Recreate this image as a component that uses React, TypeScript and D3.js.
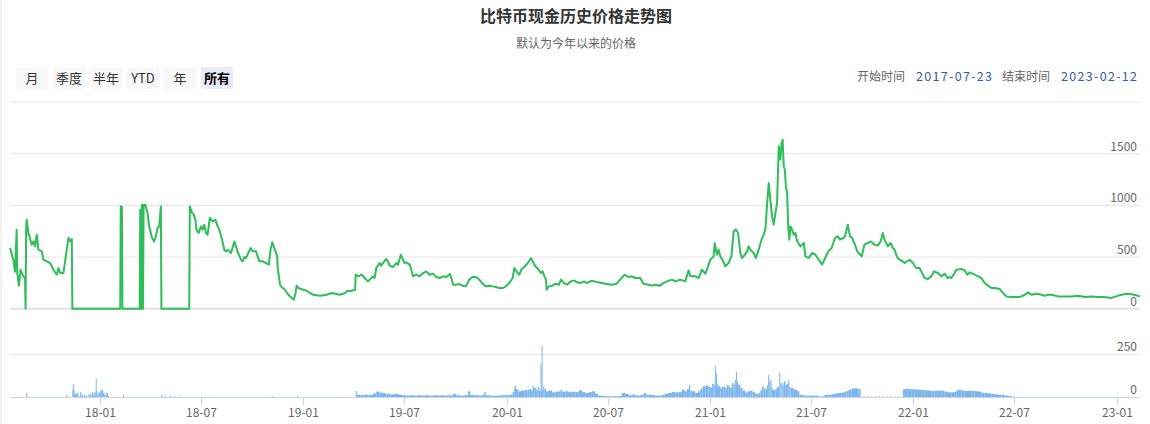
import React from 'react';
import * as d3 from 'd3';

const titleText = '比特币现金历史价格走势图';
const subtitleText = '默认为今年以来的价格';
const rangeButtons = ['月', '季度', '半年', 'YTD', '年', '所有'];
const selectedButton = '所有';
const startLabel = '开始时间';
const endLabel = '结束时间';
const startDate = '2017-07-23';
const endDate = '2023-02-12';

const priceDates = [
  '2017-07-23','2017-07-29','2017-08-01','2017-08-04','2017-08-05','2017-08-08','2017-08-11','2017-08-16','2017-08-19','2017-08-20',
  '2017-08-21','2017-08-22','2017-08-25','2017-08-31','2017-09-03','2017-09-06','2017-09-09','2017-09-12','2017-09-18','2017-09-21',
  '2017-09-27','2017-10-03','2017-10-09','2017-10-15','2017-10-18','2017-10-21','2017-10-27','2017-10-30','2017-11-05','2017-11-08',
  '2017-11-11','2017-11-12','2018-02-06','2018-02-07','2018-02-09','2018-02-10','2018-03-13','2018-03-14','2018-03-15','2018-03-16',
  '2018-03-17','2018-03-18','2018-03-19','2018-03-20','2018-03-23','2018-03-27','2018-03-30','2018-04-04','2018-04-08','2018-04-11',
  '2018-04-14','2018-04-17','2018-04-20','2018-04-21','2018-06-10','2018-06-11','2018-06-15','2018-06-18','2018-06-21','2018-06-23',
  '2018-06-27','2018-07-01','2018-07-04','2018-07-07','2018-07-10','2018-07-13','2018-07-17','2018-07-22','2018-07-27','2018-07-31',
  '2018-08-03','2018-08-08','2018-08-12','2018-08-15','2018-08-18','2018-08-24','2018-08-30','2018-09-02','2018-09-05','2018-09-11',
  '2018-09-14','2018-09-17','2018-09-20','2018-09-28','2018-10-02','2018-10-08','2018-10-11','2018-10-14','2018-10-20','2018-10-26',
  '2018-10-31','2018-11-03','2018-11-06','2018-11-09','2018-11-12','2018-11-15','2018-11-16','2018-11-20','2018-11-23','2018-11-29',
  '2018-12-05','2018-12-11','2018-12-15','2018-12-18','2018-12-20','2018-12-23','2019-01-01','2019-01-07','2019-01-13','2019-01-19',
  '2019-01-31','2019-02-12','2019-02-21','2019-02-27','2019-03-08','2019-03-17','2019-03-20','2019-03-29','2019-04-04','2019-04-05',
  '2019-04-10','2019-04-16','2019-04-21','2019-04-27','2019-05-03','2019-05-06','2019-05-09','2019-05-12','2019-05-18','2019-05-21',
  '2019-05-25','2019-05-30','2019-06-02','2019-06-05','2019-06-11','2019-06-17','2019-06-20','2019-06-25','2019-06-29','2019-07-02',
  '2019-07-05','2019-07-11','2019-07-14','2019-07-17','2019-07-23','2019-07-29','2019-08-04','2019-08-10','2019-08-16','2019-08-22',
  '2019-08-28','2019-09-03','2019-09-09','2019-09-15','2019-09-21','2019-09-24','2019-09-27','2019-10-02','2019-10-08','2019-10-14',
  '2019-10-20','2019-10-26','2019-11-01','2019-11-07','2019-11-13','2019-11-19','2019-11-25','2019-12-01','2019-12-07','2019-12-13',
  '2019-12-19','2019-12-25','2019-12-31','2020-01-06','2020-01-12','2020-01-15','2020-01-21','2020-01-24','2020-01-28','2020-02-02',
  '2020-02-08','2020-02-14','2020-02-17','2020-02-21','2020-02-25','2020-03-03','2020-03-06','2020-03-09','2020-03-12','2020-03-13',
  '2020-03-17','2020-03-23','2020-03-29','2020-04-04','2020-04-08','2020-04-13','2020-04-19','2020-04-25','2020-05-01','2020-05-07',
  '2020-05-13','2020-05-19','2020-05-24','2020-06-02','2020-06-14','2020-06-26','2020-07-08','2020-07-17','2020-07-23','2020-07-31',
  '2020-08-07','2020-08-13','2020-08-19','2020-08-28','2020-09-03','2020-09-12','2020-09-18','2020-09-24','2020-10-03','2020-10-09',
  '2020-10-15','2020-10-24','2020-10-30','2020-11-08','2020-11-17','2020-11-23','2020-11-26','2020-12-05','2020-12-11','2020-12-17',
  '2020-12-23','2020-12-26','2021-01-01','2021-01-07','2021-01-09','2021-01-13','2021-01-16','2021-01-19','2021-01-23','2021-01-28',
  '2021-02-03','2021-02-08','2021-02-12','2021-02-16','2021-02-20','2021-02-24','2021-02-27','2021-03-04','2021-03-08','2021-03-11',
  '2021-03-14','2021-03-20','2021-03-24','2021-03-29','2021-04-03','2021-04-07','2021-04-10','2021-04-13','2021-04-16','2021-04-19',
  '2021-04-22','2021-04-25','2021-04-28','2021-05-01','2021-05-04','2021-05-07','2021-05-09','2021-05-11','2021-05-13','2021-05-15',
  '2021-05-17','2021-05-19','2021-05-21','2021-05-23','2021-05-25','2021-05-28','2021-05-31','2021-06-03','2021-06-06','2021-06-12',
  '2021-06-18','2021-06-21','2021-06-27','2021-07-03','2021-07-09','2021-07-15','2021-07-21','2021-07-25','2021-08-01','2021-08-07',
  '2021-08-13','2021-08-18','2021-08-22','2021-08-28','2021-08-31','2021-09-05','2021-09-09','2021-09-13','2021-09-18','2021-09-22',
  '2021-09-30','2021-10-05','2021-10-11','2021-10-17','2021-10-23','2021-10-29','2021-11-03','2021-11-07','2021-11-10','2021-11-13',
  '2021-11-16','2021-11-21','2021-11-25','2021-11-28','2021-12-01','2021-12-04','2021-12-07','2021-12-13','2021-12-16','2021-12-25',
  '2021-12-31','2022-01-06','2022-01-12','2022-01-15','2022-01-21','2022-01-27','2022-02-02','2022-02-07','2022-02-14','2022-02-20',
  '2022-02-26','2022-03-03','2022-03-07','2022-03-10','2022-03-16','2022-03-19','2022-03-28','2022-04-03','2022-04-08','2022-04-12',
  '2022-04-21','2022-04-27','2022-05-03','2022-05-09','2022-05-15','2022-05-21','2022-05-27','2022-06-05','2022-06-11','2022-06-17',
  '2022-06-26','2022-07-08','2022-07-14','2022-07-20','2022-07-26','2022-08-01','2022-08-10','2022-08-19','2022-08-25','2022-08-31',
  '2022-09-06','2022-09-18','2022-09-30','2022-10-12','2022-10-24','2022-11-05','2022-11-16','2022-11-28','2022-12-10','2022-12-22',
  '2022-12-31','2023-01-09','2023-01-21','2023-02-02','2023-02-12',
];

const priceValues = [
  590,474,358,765,348,223,377,310,310,0,
  765,861,735,619,651,603,716,571,555,474,
  458,442,377,329,394,345,345,458,687,651,
  674,0,0,990,985,0,0,958,958,0,
  1006,1006,0,1000,1006,929,797,687,651,700,
  781,797,990,0,0,990,929,913,861,765,
  732,797,765,813,732,716,880,845,861,797,
  765,668,571,555,571,539,651,603,550,474,
  458,500,490,587,555,555,506,458,458,442,
  426,571,642,600,555,506,394,232,210,184,
  135,103,87,152,223,200,184,174,152,135,
  126,135,152,145,135,152,168,174,184,329,
  313,329,297,264,297,313,297,394,442,416,
  448,481,458,416,403,442,426,522,474,442,
  448,426,377,313,329,313,345,361,329,339,
  306,297,313,306,336,297,232,232,239,223,
  216,281,306,306,281,242,216,223,216,210,
  200,200,216,248,297,394,345,329,384,403,
  442,490,458,416,394,345,361,313,281,184,
  216,223,242,232,281,248,232,264,274,255,
  248,264,248,271,255,242,232,242,281,329,
  306,313,297,297,242,232,223,232,223,248,
  264,281,264,281,264,371,313,313,297,377,
  339,377,474,506,636,522,571,506,474,410,
  442,506,748,765,732,539,490,522,555,603,
  571,539,490,571,668,716,765,1006,1216,1055,
  893,813,926,1022,1571,1442,1603,1635,1377,1345,
  1168,1135,797,668,797,765,716,732,651,603,
  636,506,490,539,522,474,426,474,555,587,
  684,700,668,684,700,813,700,684,619,555,
  506,619,636,651,619,610,651,732,668,636,
  603,636,587,571,522,490,474,458,442,474,
  442,394,394,361,297,287,313,361,345,313,
  339,297,306,297,345,377,384,371,329,352,
  329,313,297,248,223,200,200,190,152,119,
  113,113,119,135,158,135,145,135,126,135,
  135,119,119,119,126,113,119,113,113,103,
  119,135,145,135,119,
];

const volumeDates = [
  '2017-08-21','2017-08-23','2017-09-10','2017-09-12','2017-10-19','2017-10-21','2017-11-01','2017-11-03','2017-11-05','2017-11-07',
  '2017-11-12','2017-11-13','2017-11-14','2017-11-16','2017-11-19','2017-11-21','2017-11-23','2017-11-26','2017-11-28','2017-11-29',
  '2017-12-01','2017-12-03','2017-12-05','2017-12-07','2017-12-09','2017-12-11','2017-12-13','2017-12-14','2017-12-16','2017-12-17',
  '2017-12-19','2017-12-20','2017-12-22','2017-12-24','2017-12-25','2017-12-27','2017-12-29','2018-01-01','2018-01-04','2018-01-06',
  '2018-01-09','2018-01-12','2018-01-15','2018-01-17','2018-02-11','2018-02-13','2018-02-18','2018-02-20','2018-04-21','2018-04-23',
  '2018-04-27','2018-04-29','2018-05-06','2018-05-08','2018-05-14','2018-05-16','2018-05-24','2018-05-26','2018-07-25','2018-07-27',
  '2018-09-26','2018-09-28','2018-11-05','2018-11-07','2018-12-21','2018-12-23','2019-04-05','2019-04-07','2019-04-14','2019-04-21',
  '2019-04-28','2019-05-06','2019-05-12','2019-05-18','2019-05-24','2019-05-30','2019-06-06','2019-06-13','2019-06-20','2019-06-27',
  '2019-07-04','2019-07-11','2019-07-18','2019-07-25','2019-08-01','2019-08-08','2019-08-15','2019-08-22','2019-08-29','2019-09-05',
  '2019-09-12','2019-09-19','2019-09-26','2019-10-03','2019-10-10','2019-10-17','2019-10-24','2019-10-28','2019-11-04','2019-11-11',
  '2019-11-18','2019-11-22','2019-11-25','2019-12-02','2019-12-09','2019-12-16','2019-12-23','2019-12-30','2020-01-06','2020-01-12',
  '2020-01-15','2020-01-18','2020-01-22','2020-01-27','2020-02-02','2020-02-08','2020-02-11','2020-02-14','2020-02-17','2020-02-20',
  '2020-02-23','2020-02-26','2020-02-28','2020-03-02','2020-03-03','2020-03-04','2020-03-05','2020-03-07','2020-03-09','2020-03-12',
  '2020-03-17','2020-03-23','2020-03-29','2020-04-04','2020-04-07','2020-04-10','2020-04-16','2020-04-22','2020-04-28','2020-05-04',
  '2020-05-10','2020-05-16','2020-05-22','2020-05-28','2020-06-02','2020-06-08','2020-06-14','2020-06-20','2020-06-26','2020-07-08',
  '2020-07-20','2020-07-26','2020-08-01','2020-08-07','2020-08-13','2020-08-20','2020-08-27','2020-09-03','2020-09-08','2020-09-12',
  '2020-09-18','2020-09-24','2020-10-01','2020-10-06','2020-10-11','2020-10-17','2020-10-24','2020-10-30','2020-11-05','2020-11-11',
  '2020-11-16','2020-11-20','2020-11-24','2020-11-26','2020-11-29','2020-12-05','2020-12-10','2020-12-14','2020-12-18','2020-12-23',
  '2020-12-29','2021-01-02','2021-01-04','2021-01-07','2021-01-09','2021-01-10','2021-01-11','2021-01-13','2021-01-15','2021-01-19',
  '2021-01-22','2021-01-25','2021-01-28','2021-01-31','2021-02-03','2021-02-06','2021-02-09','2021-02-12','2021-02-14','2021-02-16',
  '2021-02-18','2021-02-20','2021-02-24','2021-02-28','2021-03-05','2021-03-09','2021-03-14','2021-03-18','2021-03-23','2021-03-29',
  '2021-04-01','2021-04-04','2021-04-07','2021-04-10','2021-04-13','2021-04-15','2021-04-17','2021-04-19','2021-04-21','2021-04-22',
  '2021-04-28','2021-05-01','2021-05-05','2021-05-07','2021-05-09','2021-05-11','2021-05-13','2021-05-16','2021-05-19','2021-05-21',
  '2021-05-23','2021-05-25','2021-05-31','2021-06-06','2021-06-10','2021-06-17','2021-06-24','2021-07-01','2021-07-08','2021-07-15',
  '2021-07-22','2021-07-25','2021-08-01','2021-08-07','2021-08-13','2021-08-19','2021-08-25','2021-08-30','2021-09-03','2021-09-06',
  '2021-09-09','2021-09-12','2021-09-18','2021-09-24','2021-09-28','2021-10-03','2021-10-05','2021-10-10','2021-10-12','2021-10-17',
  '2021-10-19','2021-10-24','2021-10-26','2021-10-31','2021-11-02','2021-11-07','2021-11-09','2021-11-14','2021-11-16','2021-11-21',
  '2021-11-23','2021-11-28','2021-11-30','2021-12-04','2021-12-06','2021-12-13','2021-12-17','2021-12-22','2021-12-28','2022-01-03',
  '2022-01-09','2022-01-15','2022-01-21','2022-01-27','2022-02-02','2022-02-08','2022-02-14','2022-02-20','2022-02-26','2022-03-04',
  '2022-03-10','2022-03-16','2022-03-19','2022-03-22','2022-03-28','2022-04-03','2022-04-09','2022-04-15','2022-04-21','2022-04-27',
  '2022-05-03','2022-05-09','2022-05-15','2022-05-21','2022-05-27','2022-06-02','2022-06-08','2022-06-14','2022-06-20','2022-06-26',
  '2022-07-02','2022-07-08','2022-07-14','2022-07-26','2022-07-28','2022-07-30',
];

const volumeValues = [
  27,0,3,0,3,0,14,0,6,0,
  43,77,43,20,27,23,5,31,6,14,
  5,14,5,8,5,19,5,19,8,29,
  10,23,33,110,33,14,27,39,46,23,
  14,27,8,0,14,0,4,0,14,0,
  8,0,8,0,8,0,6,0,4,0,
  4,0,8,0,8,0,37,14,12,15,
  14,23,33,27,23,19,17,19,15,12,
  10,12,10,12,10,12,9,12,10,12,
  10,12,19,12,10,12,35,14,12,10,
  14,29,12,10,9,10,12,12,15,30,
  64,48,35,39,41,45,48,40,64,54,
  44,64,39,199,39,300,45,64,48,35,
  39,29,33,35,44,33,35,30,33,30,
  41,30,25,30,35,20,10,8,6,6,
  8,25,21,12,15,10,12,25,15,15,
  12,10,10,14,21,25,31,29,30,44,
  35,48,73,40,35,25,35,48,64,68,
  60,55,79,70,184,90,141,75,64,54,
  60,64,55,73,60,54,83,70,102,147,
  90,73,54,40,29,35,39,30,21,25,
  40,60,50,48,70,131,90,102,60,44,
  48,60,145,80,83,70,93,73,80,99,
  60,54,44,35,15,10,10,10,10,4,
  8,14,15,18,23,25,29,33,37,42,
  46,52,52,48,0,6,0,6,0,5,
  0,6,0,6,0,5,0,6,0,6,
  0,5,0,6,0,46,50,48,47,46,
  44,43,41,40,37,38,39,39,33,29,
  30,31,40,43,39,37,38,37,36,33,
  27,25,23,20,17,15,14,10,8,4,
  3,2,1,0,2,0,
];

const priceTicks = [0, 500, 1000, 1500, 2000];
const priceTickLabels = ['0', '500', '1000', '1500', ''];
const volumeTicks = [0, 250];
const volumeTickLabels = ['0', '250'];
const xTickDates = ['2018-01-01','2018-07-01','2019-01-01','2019-07-01','2020-01-01','2020-07-01','2021-01-01','2021-07-01','2022-01-01','2022-07-01','2023-01-01'];
const xTickLabels = ['18-01','18-07','19-01','19-07','20-01','20-07','21-01','21-07','22-01','22-07','23-01'];

const W = 1150;
const H = 424;
const FONT = '"Noto Sans CJK SC", "Noto Sans", sans-serif';

export default function App() {
  const parse = d3.utcParse('%Y-%m-%d');
  const x = d3.scaleUtc().domain([parse(startDate)!, parse(endDate)!]).range([10, 1140]);
  const yP = d3.scaleLinear().domain([0, 2000]).range([308.7, 102]);
  const yV = d3.scaleLinear().domain([0, 250]).range([397.3, 354.3]);

  const pricePts = priceDates.map((d, i) => [parse(d)!, priceValues[i]] as [Date, number]);
  const line = d3.line<[Date, number]>().x(d => x(d[0])).y(d => yP(d[1]));

  const dayMs = 86400000;
  const bars = volumeDates.map((d, i) => {
    const t = parse(d)!;
    const next = i < volumeDates.length - 1 ? parse(volumeDates[i + 1])! : new Date(t.getTime() + dayMs);
    const gap = Math.min(next.getTime() - t.getTime(), 14 * dayMs);
    const x0 = x(t);
    const x1 = x(new Date(t.getTime() + gap));
    return { x: x0, w: Math.max(1, x1 - x0), v: volumeValues[i] };
  }).filter(b => b.v > 0);

  return (
    <div style={{ position: 'absolute', left: 0, top: 0 }}>
      <svg width={W} height={H} style={{ display: 'block', fontFamily: FONT }}>
        <rect x={0} y={0} width={W} height={H} fill="#fff" />
        <rect x={0} y={0} width={2} height={H} fill="#efefef" />
        <text x={576} y={22} textAnchor="middle" fontSize={16} fontWeight="bold" fill="#333">{titleText}</text>
        <text x={576} y={48} textAnchor="middle" fontSize={12} fill="#666">{subtitleText}</text>

        {rangeButtons.map((b, i) => {
          const sel = b === selectedButton;
          return (
            <g key={b}>
              <rect x={16 + i * 37} y={67} width={32} height={22} rx={2} fill={sel ? '#e6ebf5' : '#f7f7f7'} />
              <text x={32 + i * 37} y={82.5} textAnchor="middle" fontSize={13} fill={sel ? '#000' : '#333'} fontWeight={sel ? 'bold' : 'normal'}>{b}</text>
            </g>
          );
        })}

        <text x={905} y={81} textAnchor="end" fontSize={12} fill="#666">{startLabel}</text>
        <text x={916} y={81} fontSize={12.5} fill="#335cad" textLength={76} lengthAdjust="spacing">{startDate}</text>
        <text x={1050} y={81} textAnchor="end" fontSize={12} fill="#666">{endLabel}</text>
        <text x={1061} y={81} fontSize={12.5} fill="#335cad" textLength={76} lengthAdjust="spacing">{endDate}</text>

        {priceTicks.map((t, i) => (
          <g key={'p' + t}>
            <line x1={10} x2={1140} y1={yP(t)} y2={yP(t)} stroke={t === 0 ? '#e0e0e0' : '#e6e6e6'} strokeWidth={t === 0 ? 2 : 1} />
            {priceTickLabels[i] && (
              <text x={1137} y={yP(t) - 3} textAnchor="end" fontSize={12} fill="#666">{priceTickLabels[i]}</text>
            )}
          </g>
        ))}

        {volumeTicks.map((t, i) => (
          <g key={'v' + t}>
            {t !== 0 && <line x1={10} x2={1140} y1={yV(t)} y2={yV(t)} stroke="#e6e6e6" strokeWidth={1} />}
            <text x={1137} y={yV(t) - 3} textAnchor="end" fontSize={12} fill="#666">{volumeTickLabels[i]}</text>
          </g>
        ))}

        {bars.map((b, i) => (
          <rect key={i} x={b.x} y={yV(b.v)} width={b.w} height={yV(0) - yV(b.v)} fill="#7cb5ec" />
        ))}

        <line x1={10} x2={1140} y1={397.5} y2={397.5} stroke="#ccd6eb" strokeWidth={1} />
        {xTickDates.map((d, i) => {
          const xx = Math.round(x(parse(d)!)) + 0.5;
          return (
            <g key={d}>
              <line x1={xx} x2={xx} y1={398} y2={405} stroke="#ccd6eb" strokeWidth={1} />
              <text x={xx} y={416.5} textAnchor="middle" fontSize={12} fill="#666">{xTickLabels[i]}</text>
            </g>
          );
        })}

        <path d={line(pricePts) || ''} fill="none" stroke="#2ebd59" strokeWidth={2} strokeLinejoin="round" />
      </svg>
    </div>
  );
}
